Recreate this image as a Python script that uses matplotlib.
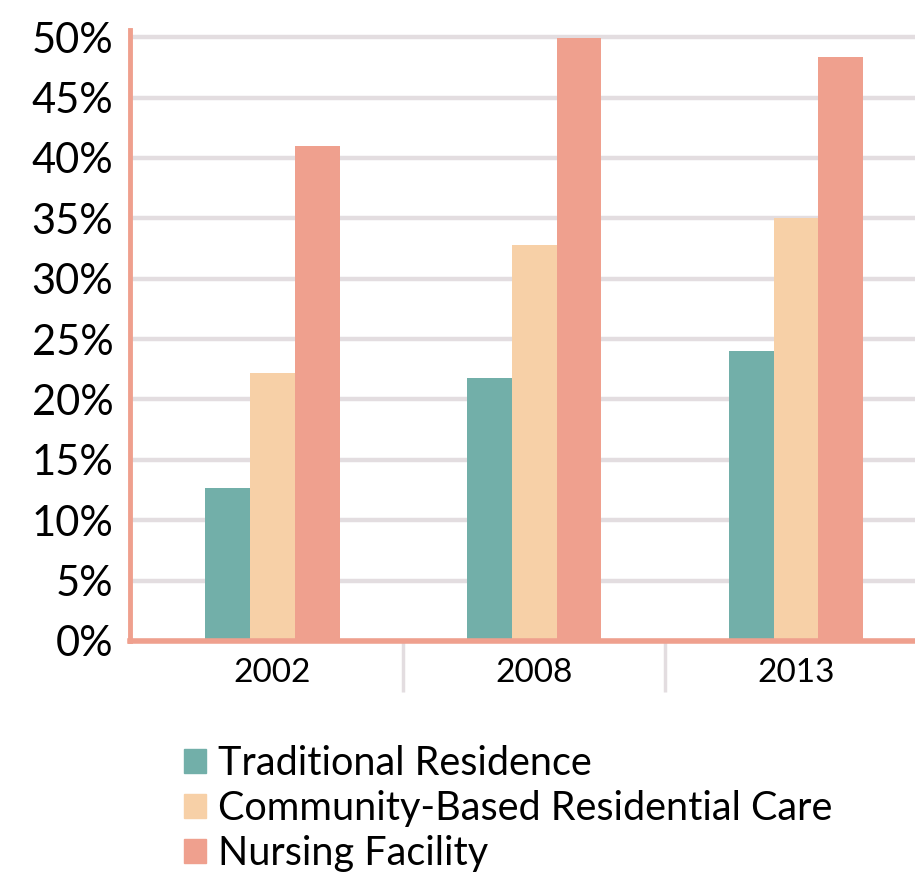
import matplotlib
matplotlib.use("Agg")
import matplotlib.pyplot as plt
import numpy as np
from matplotlib.patches import Patch
from matplotlib.ticker import FixedLocator

# ====== data ======
years = ["2002", "2008", "2013"]
series_names = ["Traditional Residence", "Community-Based Residential Care", "Nursing Facility"]
traditional = [12.7, 21.8, 24.0]
community = [22.2, 32.8, 35.0]
nursing = [41.0, 49.9, 48.4]
yticks = [0, 5, 10, 15, 20, 25, 30, 35, 40, 45, 50]

colors = ["#72afa9", "#f7d0a7", "#efa08e"]
grid_col = "#e3dde0"
axis_col = "#efa08e"

plt.rcParams['font.family'] = ['Lato', 'DejaVu Sans']

fig = plt.figure(figsize=(9.15, 8.73), dpi=100)
ax = fig.add_axes([130/915, 232/873, 785/915, 611/873])

x = np.arange(len(years))
w = 0.171
for i, vals in enumerate([traditional, community, nursing]):
    ax.bar(x + (i - 1) * w, vals, width=w, color=colors[i], zorder=3,
           label=series_names[i])

ax.set_xlim(-0.545, 2.455)
ax.set_ylim(0, 50.6)

ax.set_yticks(yticks)
ax.set_yticklabels([f"{v}%" for v in yticks], fontsize=30)
ax.tick_params(axis='y', length=0, pad=12)
ax.yaxis.grid(True, color=grid_col, linewidth=3.2, zorder=0)
ax.set_axisbelow(True)

ax.set_xticks(x)
ax.set_xticklabels(years, fontsize=24)
ax.tick_params(axis='x', which='major', length=0, pad=12)
ax.xaxis.set_minor_locator(FixedLocator([0.5, 1.5]))
ax.tick_params(axis='x', which='minor', length=37, width=2.5, color=grid_col,
               direction='out')

for s in ['top', 'right']:
    ax.spines[s].set_visible(False)
ax.spines['left'].set_color(axis_col)
ax.spines['left'].set_linewidth(3.5)
ax.spines['bottom'].set_color(axis_col)
ax.spines['bottom'].set_linewidth(4)
ax.spines['bottom'].set_zorder(5)

handles = [Patch(color=c) for c in colors]
fig.legend(handles, series_names, loc='upper left', bbox_to_anchor=(184/915, 1 - 745/873),
           frameon=False, fontsize=28.5, handlelength=0.55, handleheight=0.55,
           handletextpad=0.3, labelspacing=0.2, borderaxespad=0, borderpad=0)

fig.savefig("out.png", dpi=100)
